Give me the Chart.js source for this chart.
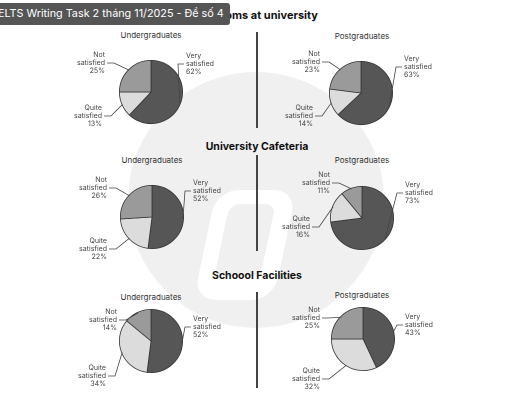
<!DOCTYPE html><html><head><meta charset="utf-8">
<script src="https://cdn.jsdelivr.net/npm/chart.js@4"></script>
<style>
body{margin:0;width:512px;height:412px;background:#fff;position:relative;overflow:hidden;font-family:Inter,Roboto,sans-serif}
.abs{position:absolute}
.t{position:absolute;font-weight:bold;font-size:10.5px;color:#111;white-space:nowrap;transform:translateX(-50%)}
.s{position:absolute;font-size:8px;color:#333;transform:translateX(-50%);white-space:nowrap}
.d{position:absolute;left:256px;width:1.5px;background:#444}
</style></head><body>
<div class="abs" style="left:128px;top:72px;width:256px;height:256px;border-radius:50%;background:#f0f0f0"></div>
<div class="abs" style="left:205px;top:190px;width:80px;height:110px;border-radius:22px;background:#fff;transform:skewX(-12deg)"></div>
<div class="abs" style="left:222px;top:204px;width:46px;height:72px;border-radius:10px;background:#f0f0f0;transform:skewX(-12deg)"></div>
<div class="abs" style="right:194px;top:8px;font-weight:bold;font-size:11px;color:#111;white-space:nowrap">Lecture rooms at university</div>
<div class="t" style="left:257px;top:140px">University Cafeteria</div>
<div class="t" style="left:257px;top:269px">Schoool Facilities</div>
<div class="s" style="left:151px;top:30px">Undergraduates</div><div class="s" style="left:362px;top:31px">Postgraduates</div>
<div class="s" style="left:152px;top:155px">Undergraduates</div><div class="s" style="left:362px;top:155px">Postgraduates</div>
<div class="s" style="left:151px;top:292px">Undergraduates</div><div class="s" style="left:362px;top:290px">Postgraduates</div>
<div class="d" style="top:32px;height:96px"></div>
<div class="d" style="top:155px;height:96px"></div>
<div class="d" style="top:292px;height:96px"></div>
<div id="wrap"></div>
<div class="abs" style="left:-4px;top:3px;width:234px;height:22px;background:#555;border-radius:3px;color:#fff;font-size:10.8px;line-height:22px;white-space:nowrap;overflow:hidden"><span style="margin-left:-1px">IELTS Writing Task 2 tháng 11/2025 - Đề số 4</span></div>
<script>
const categories=["Very satisfied","Quite satisfied","Not satisfied"];
const lectureUG=[62,13,25], lecturePG=[63,14,23];
const cafeUG=[52,22,26], cafePG=[73,16,11];
const facUG=[52,34,14], facPG=[43,32,25];
const colors=["#565656","#dcdcdc","#9a9a9a"];
const pies=[
 {d:lectureUG,cx:151,cy:92,lab:[[35,-28,'l'],[-49,24,'r'],[-46,-29,'r']]},
 {d:lecturePG,cx:361,cy:93,lab:[[43,-26,'l'],[-48,23,'r'],[-41,-31,'r']]},
 {d:cafeUG,cx:152,cy:217,lab:[[41,-26,'l'],[-45,32,'r'],[-45,-29,'r']]},
 {d:cafePG,cx:362,cy:218,lab:[[43,-25,'l'],[-52,9,'r'],[-32,-35,'r']]},
 {d:facUG,cx:151,cy:341,lab:[[42,-14,'l'],[-45,35,'r'],[-34,-21,'r']]},
 {d:facPG,cx:363,cy:339,lab:[[42,-14,'l'],[-43,40,'r'],[-43,-21,'r']]}
];
const W=210,H=124;
const labelPlugin={id:'lab',afterDraw(ch,a,o){
 const ctx=ch.ctx,m=ch.getDatasetMeta(0),lab=o.lab;
 if(!lab)return;
 ctx.save();ctx.font='7px Inter, Roboto, sans-serif';ctx.fillStyle='#444';ctx.strokeStyle='#444';ctx.lineWidth=0.8;ctx.textBaseline='middle';
 m.data.forEach((arc,i)=>{
  const [dx,dy,al]=lab[i];const cx=arc.x,cy=arc.y;
  const tx=cx+dx,ty=cy+dy;
  const parts=categories[i].split(' ');
  const lines=[parts[0],parts[1],ch.data.datasets[0].data[i]+'%'];
  ctx.textAlign=al==='l'?'left':'right';
  lines.forEach((s,k)=>ctx.fillText(s,tx,ty+(k-1)*8));
  const mid=(arc.startAngle+arc.endAngle)/2;
  const ex=cx+Math.cos(mid)*arc.outerRadius*0.98,ey=cy+Math.sin(mid)*arc.outerRadius*0.98;
  const sx=al==='l'?tx-2:tx+2,bx=al==='l'?tx-8:tx+9;
  ctx.beginPath();ctx.moveTo(sx,ty);ctx.lineTo(bx,ty);ctx.lineTo(ex,ey);ctx.stroke();
 });ctx.restore();}};
pies.forEach(p=>{
 const c=document.createElement('canvas');
 c.width=W;c.height=H;
 c.style.cssText=`position:absolute;left:${p.cx-W/2}px;top:${p.cy-H/2}px;width:${W}px;height:${H}px`;
 document.getElementById('wrap').appendChild(c);
 new Chart(c,{type:'pie',data:{labels:categories,datasets:[{data:p.d,backgroundColor:colors,borderColor:'#333',borderWidth:0.8}]},
  options:{responsive:false,animation:false,devicePixelRatio:2,layout:{padding:{top:30,bottom:30,left:73,right:73}},
  plugins:{legend:{display:false},tooltip:{enabled:false},lab:{lab:p.lab}}},plugins:[labelPlugin]});
});
</script></body></html>
